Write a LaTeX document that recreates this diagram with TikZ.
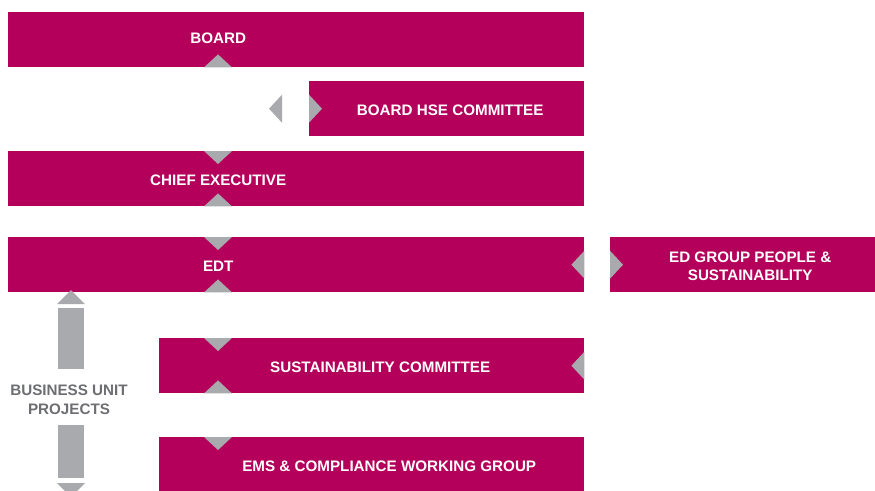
\documentclass[tikz,border=0pt]{standalone}
\usepackage{fontspec}
\setmainfont{Liberation Sans}
\usetikzlibrary{calc,positioning}
\definecolor{berry}{HTML}{B5005B}
\definecolor{pebble}{HTML}{A9AAAD}
\definecolor{slate}{HTML}{6D6E71}
% grey pointers, given by the middle of their base
\newcommand{\tridown}[1]{\fill[pebble] (#1) ++(-14,0) -- ++(28,0) -- ++(-14,13) -- cycle;}
\newcommand{\triup}[1]{\fill[pebble] (#1) ++(-14,0) -- ++(28,0) -- ++(-14,-13) -- cycle;}
\newcommand{\trileft}[1]{\fill[pebble] (#1) ++(0,-14) -- ++(0,28) -- ++(-13,-14) -- cycle;}
\newcommand{\triright}[1]{\fill[pebble] (#1) ++(0,-14) -- ++(0,28) -- ++(13,-14) -- cycle;}

\begin{document}
\begin{tikzpicture}[x=1pt,y=-1pt,
  box/.style={fill=berry,minimum height=55pt,inner sep=0pt,anchor=north west},
  lbl/.style={text=white,font=\bfseries\fontsize{15.2}{18.5}\selectfont,align=center,inner sep=0pt},
  boxlbl/.style={lbl,yshift=-1.5pt}]
\useasboundingbox (0,0) rectangle (875,490);
\clip (0,0) rectangle (875,490);
\coordinate (col) at (218,0);
% committee boxes
\node[box,minimum width=576pt,label={[boxlbl,xshift=-78pt,yshift=2.5pt]center:BOARD}] (board) at (8,12) {};
\node[box,minimum width=275pt,label={[boxlbl,xshift=3.5pt]center:BOARD HSE COMMITTEE}] (hse) at (309,81) {};
\node[box,minimum width=576pt,label={[boxlbl,xshift=-78pt]center:CHIEF EXECUTIVE}] (ceo) at (8,151) {};
\node[box,minimum width=576pt,label={[boxlbl,xshift=-78pt]center:EDT}] (edt) at (8,237) {};
\node[box,minimum width=265pt,label={[boxlbl,xshift=7.5pt]center:ED GROUP PEOPLE \&\\SUSTAINABILITY}] (edg) at (610,237) {};
\node[box,minimum width=425pt,label={[boxlbl,xshift=8.5pt]center:SUSTAINABILITY COMMITTEE}] (sc) at (159,338) {};
\node[box,minimum width=425pt,label={[boxlbl,xshift=17.5pt]center:EMS \& COMPLIANCE WORKING GROUP}] (ems) at (159,437) {};
% pointers between the boxes
\triup{col |- board.south}
\trileft{$(hse.west)+(-27,0)$}
\triright{hse.west}
\tridown{col |- ceo.north}
\triup{col |- ceo.south}
\tridown{col |- edt.north}
\triup{col |- edt.south}
\trileft{edt.east}
\triright{edg.west}
\tridown{col |- sc.north}
\triup{col |- sc.south}
\trileft{sc.east}
\tridown{col |- ems.north}
% business unit projects, with arrows up and down
\node[lbl,text=slate] (bup) at (69,400) {BUSINESS UNIT\\PROJECTS};
\fill[pebble] (57,304) -- (85,304) -- (71,290) -- cycle;
\fill[pebble] (58,308) rectangle (84,369);
\fill[pebble] (58,425) rectangle (84,478);
\fill[pebble] (57,483) -- (85,483) -- (71,497) -- cycle;
\end{tikzpicture}
\end{document}
